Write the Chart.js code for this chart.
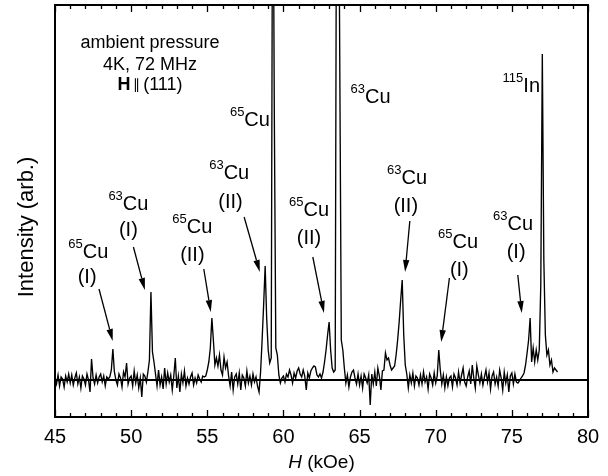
<!DOCTYPE html>
<html>
<head>
<meta charset="utf-8">
<title>NMR spectrum, ambient pressure</title>
<script src="https://cdn.jsdelivr.net/npm/chart.js@4.4.1/dist/chart.umd.min.js"></script>
<style>
  html, body { margin: 0; padding: 0; background: #fff; }
  canvas { display: block; }
</style>
</head>
<body>
<canvas id="spectrum" width="608" height="476"></canvas>
<script>
// ─── Data ─────────────────────────────────────────────────────────────────────

// field sweep, 45.0 … 78.0 kOe in 0.1 kOe steps
const fieldStart = 45;
const fieldStep = 0.1;

// intensity (arb.), one row per kOe
const intensity = [
  2, -4, 5, -6, 3, 1, -7, 4, -2, 6,          // 45
  -3, 5, -5, 2, 7, -4, 3, -8, 4, 1,          // 46
  -5, 6, 0, -12, 21, 2, -4, 5, -3, 3,        // 47
  6, -2, 4, -6, 3, 1, 3, 10, 31, 8,          // 48
  0, -5, 6, 2, -7, 8, 3, 17, -4, 2,          // 49
  4, -6, 9, -3, 5, -8, 2, -17, 6, 4,         // 50
  -2, 8, 20, 88, 28, 18, 6, -6, 10, -5,      // 51
  3, -9, 12, -4, 7, -2, 5, -10, 4, 22,       // 52
  -8, 4, -12, 6, -3, 9, -6, 2, -4, 3,        // 53
  7, -5, 2, -3, 5, 1, -2, 4, 3, 4,           // 54
  10, 18, 32, 62, 40, 15, 22, 14, 25, 10,    // 55
  5, 23, 12, 18, 4, -6, 8, -10, 3, 6,        // 56
  -4, 7, -10, 5, 2, -6, 9, -3, 4, -5,        // 57
  6, -2, 3, -6, -12, 8, 40, 75, 114, 62,     // 58
  30, 17, 22, 600, 270, 32, 25, 5, -3, 2,    // 59
  4, -2, 6, 3, 10, 5, -3, 7, 2, 9,           // 60
  12, 6, 3, 10, 4, -10, 7, 2, 9, 12,         // 61
  14, 13, 5, 3, 6, 2, 8, 18, 30, 45,         // 62
  58, 30, 12, 8, 10, 600, 600, 317, 40, 30,  // 63
  12, -3, 5, -7, 3, 8, 10, 2, -4, 6,         // 64
  -5, 4, -8, 6, 2, -3, 5, -25, 6, -4,        // 65
  8, -6, 12, 4, -10, 9, 10, 27, 20, 22,      // 66
  15, 10, 12, 14, 25, 40, 58, 80, 100, 45,   // 67
  15, 6, -8, 5, -3, 7, -6, 4, 2, -5,         // 68
  5, -4, 8, -2, 3, -9, 6, 2, -5, 7,          // 69
  -3, 4, 30, 10, -4, 5, -8, 3, -6, 2,        // 70
  4, -7, 6, 2, -5, 8, -3, 5, 12, -2,         // 71
  -6, 3, 9, -4, 15, 2, -8, 14, 5, -3,        // 72
  6, -5, 3, 10, -2, 7, -9, 4, 8, -4,         // 73
  3, -6, 10, 2, -10, 8, -3, 5, -12, 4,       // 74
  7, -4, 6, -2, -3, -1, 2, 4, 7, 15,         // 75
  27, 40, 62, 18, 32, 18, 30, 20, 30, 95,    // 76
  326, 120, 45, 25, 30, 15, 20, 8, 12, 10,   // 77
  8,                                         // 78
];

const baselineLevel = [0, 0];
const xRange = [45, 80];
const yRange = [-37, 375];
const xTickLabels = [45, 50, 55, 60, 65, 70, 75, 80];

// peak labels: [mass, element, H, y, site, siteH, siteY]
const peakLabels = [
  ['65', 'Cu', 47.19, 128, '(I)', 47.11, 103],
  ['63', 'Cu', 49.82, 176, '(I)', 49.82, 150],
  ['65', 'Cu', 54.02, 153, '(II)', 54.02, 125],
  ['63', 'Cu', 56.44, 207, '(II)', 56.52, 178],
  ['65', 'Cu', 61.68, 170, '(II)', 61.68, 142],
  ['63', 'Cu', 68.12, 202, '(II)', 68.04, 174],
  ['65', 'Cu', 71.47, 138, '(I)', 71.55, 110],
  ['63', 'Cu', 75.08, 156, '(I)', 75.28, 128],
  ['65', 'Cu', 57.80, 260, '', 0, 0],
  ['63', 'Cu', 65.72, 283, '', 0, 0],
  ['115', 'In', 75.62, 294, '', 0, 0],
];

// arrows: [tailH, tailY, headH, headY]
const arrows = [
  [47.89, 91, 48.79, 39],
  [50.15, 133, 50.90, 90],
  [54.77, 111, 55.23, 68],
  [57.42, 163, 58.45, 108],
  [61.93, 123, 62.66, 67],
  [68.30, 159, 67.99, 108],
  [70.90, 102, 70.36, 38],
  [75.39, 105, 75.65, 67],
];

const conditionLines = ['ambient pressure', '4K, 72 MHz'];
const conditionH = 51.24;
const conditionY = [337, 315, 295];

// ─── Chart ────────────────────────────────────────────────────────────────────

const FONT = "'Liberation Sans', Arial, Helvetica, sans-serif";

const spectrumPoints = intensity.map((v, i) => ({ x: fieldStart + i * fieldStep, y: v }));
const baselinePoints = xRange.map((h, i) => ({ x: h, y: baselineLevel[i] }));

function drawIsotope(ctx, mass, el, cx, cy) {
  ctx.font = `13px ${FONT}`;
  const w1 = ctx.measureText(mass).width;
  ctx.font = `20px ${FONT}`;
  const w2 = ctx.measureText(el).width;
  const left = cx - (w1 + w2) / 2;
  ctx.textAlign = 'left';
  ctx.textBaseline = 'middle';
  ctx.font = `13px ${FONT}`;
  ctx.fillText(mass, left, cy - 8);
  ctx.font = `20px ${FONT}`;
  ctx.fillText(el, left + w1, cy);
}

function drawArrow(ctx, x0, y0, x1, y1) {
  const ang = Math.atan2(y1 - y0, x1 - x0);
  const len = 12, half = 3.2;
  const bx = x1 - Math.cos(ang) * len;
  const by = y1 - Math.sin(ang) * len;
  ctx.beginPath();
  ctx.moveTo(x0, y0);
  ctx.lineTo(bx, by);
  ctx.stroke();
  ctx.beginPath();
  ctx.moveTo(x1, y1);
  ctx.lineTo(bx - Math.sin(ang) * half, by + Math.cos(ang) * half);
  ctx.lineTo(bx + Math.sin(ang) * half, by - Math.cos(ang) * half);
  ctx.closePath();
  ctx.fill();
}

const decorations = {
  id: 'decorations',
  afterDraw(chart) {
    const { ctx, chartArea: a, scales: { x, y } } = chart;
    ctx.save();
    ctx.strokeStyle = '#000';
    ctx.fillStyle = '#000';

    // frame
    ctx.lineWidth = 2;
    ctx.strokeRect(a.left, a.top, a.right - a.left, a.bottom - a.top);

    // inward ticks, top and bottom
    ctx.lineWidth = 1.3;
    for (let h = xRange[0]; h <= xRange[1]; h++) {
      const px = Math.round(x.getPixelForValue(h)) + 0.5;
      const len = h % 5 === 0 ? 7 : 4;
      ctx.beginPath();
      ctx.moveTo(px, a.bottom);
      ctx.lineTo(px, a.bottom - len);
      ctx.moveTo(px, a.top);
      ctx.lineTo(px, a.top + len);
      ctx.stroke();
    }

    // arrows
    ctx.lineWidth = 1.3;
    arrows.forEach(([h0, v0, h1, v1]) => {
      drawArrow(ctx, x.getPixelForValue(h0), y.getPixelForValue(v0),
        x.getPixelForValue(h1), y.getPixelForValue(v1));
    });

    // peak labels
    peakLabels.forEach(([mass, el, h, v, site, sh, sv]) => {
      drawIsotope(ctx, mass, el, x.getPixelForValue(h), y.getPixelForValue(v));
      if (site) {
        ctx.font = `20px ${FONT}`;
        ctx.textAlign = 'center';
        ctx.textBaseline = 'middle';
        ctx.fillText(site, x.getPixelForValue(sh), y.getPixelForValue(sv));
      }
    });

    // measurement conditions
    const cx = x.getPixelForValue(conditionH);
    ctx.font = `18px ${FONT}`;
    ctx.textAlign = 'center';
    ctx.textBaseline = 'middle';
    conditionLines.forEach((t, i) => ctx.fillText(t, cx, y.getPixelForValue(conditionY[i])));
    const parts = [['H', `bold 18px ${FONT}`], ['\u2009\u2225\u2009', `14px ${FONT}`], ['(111)', `18px ${FONT}`]];
    let total = 0;
    parts.forEach(([t, f]) => { ctx.font = f; total += ctx.measureText(t).width; });
    let px = cx - total / 2;
    ctx.textAlign = 'left';
    parts.forEach(([t, f]) => {
      ctx.font = f;
      ctx.fillText(t, px, y.getPixelForValue(conditionY[2]));
      px += ctx.measureText(t).width;
    });

    // axis titles
    ctx.font = `italic 19px ${FONT}`;
    const wH = ctx.measureText('H').width;
    ctx.font = `19px ${FONT}`;
    const wRest = ctx.measureText(' (kOe)').width;
    const tx = (a.left + a.right) / 2 - (wH + wRest) / 2;
    ctx.textAlign = 'left';
    ctx.textBaseline = 'middle';
    ctx.font = `italic 19px ${FONT}`;
    ctx.fillText('H', tx, 463);
    ctx.font = `19px ${FONT}`;
    ctx.fillText(' (kOe)', tx + wH, 463);

    ctx.translate(27, (a.top + a.bottom) / 2 + 16);
    ctx.rotate(-Math.PI / 2);
    ctx.font = `22px ${FONT}`;
    ctx.textAlign = 'center';
    ctx.fillText('Intensity (arb.)', 0, 0);

    ctx.restore();
  },
};

new Chart(document.getElementById('spectrum'), {
  type: 'line',
  data: {
    datasets: [
      {
        data: spectrumPoints,
        borderColor: '#000',
        borderWidth: 1.35,
        pointRadius: 0,
        tension: 0,
      },
      {
        data: baselinePoints,
        borderColor: '#000',
        borderWidth: 2,
        pointRadius: 0,
      },
    ],
  },
  options: {
    responsive: false,
    animation: false,
    events: [],
    layout: { padding: { left: 55, right: 20, top: 5, bottom: 0 } },
    plugins: { legend: { display: false }, tooltip: { enabled: false } },
    scales: {
      x: {
        type: 'linear',
        min: xRange[0],
        max: xRange[1],
        afterFit: s => { s.height = 59; },
        afterBuildTicks: s => { s.ticks = xTickLabels.map(v => ({ value: v })); },
        grid: { display: false, drawTicks: false },
        border: { display: false },
        ticks: { color: '#000', font: { family: FONT, size: 20 }, padding: 8 },
      },
      y: {
        display: false,
        min: yRange[0],
        max: yRange[1],
      },
    },
  },
  plugins: [decorations],
});
</script>
</body>
</html>
